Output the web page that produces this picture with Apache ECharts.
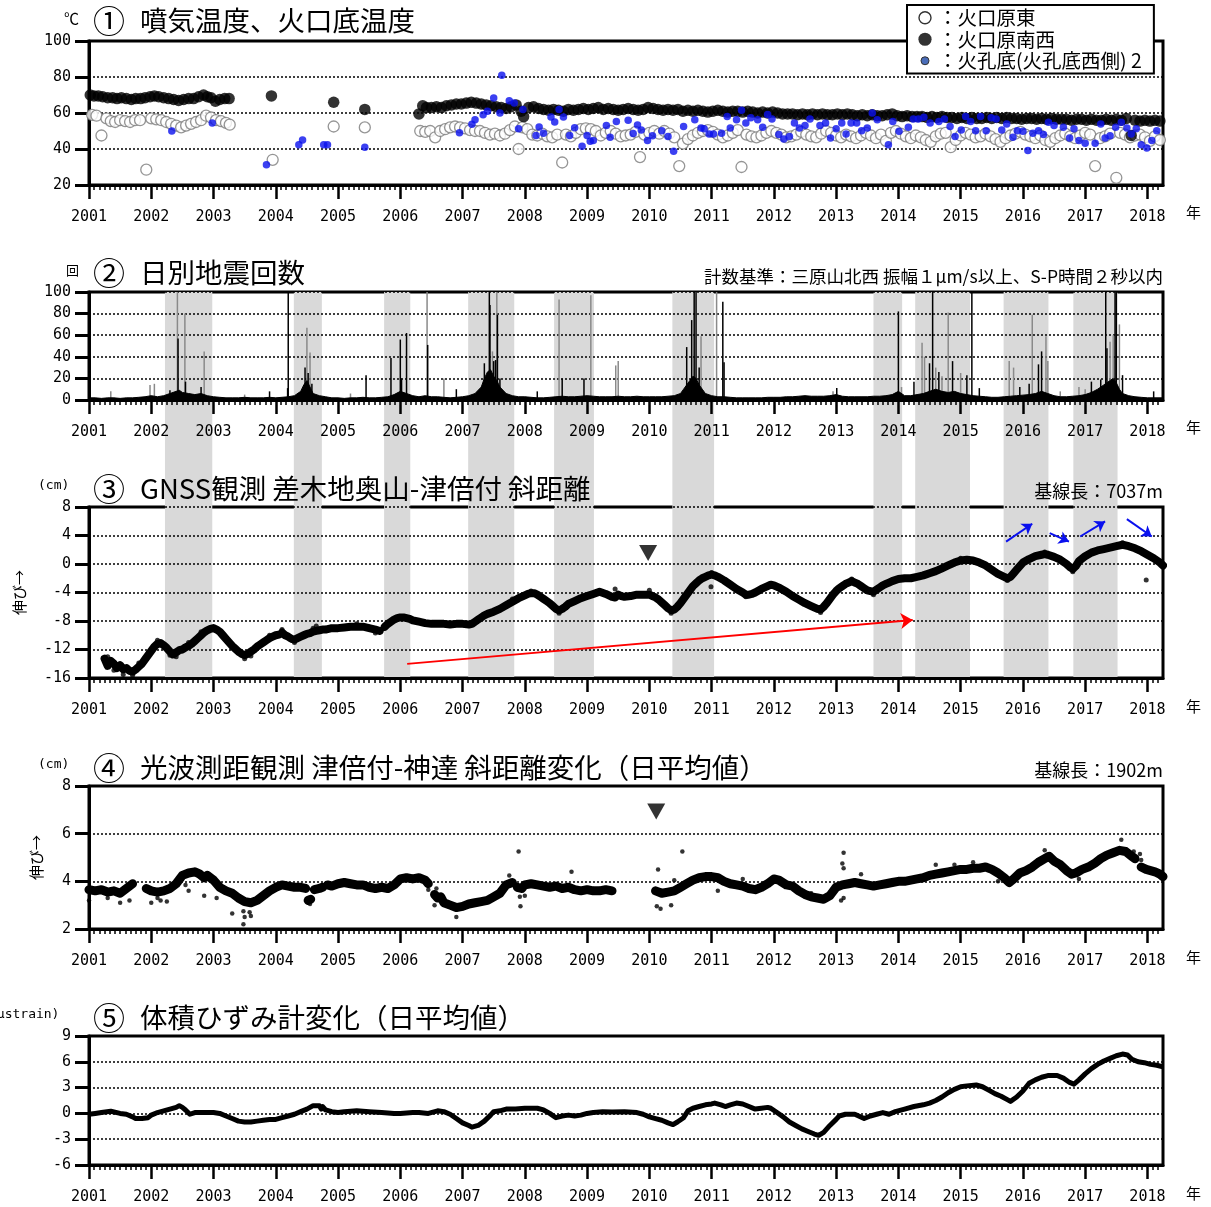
<!DOCTYPE html>
<html><head><meta charset="utf-8">
<script src="https://cdn.jsdelivr.net/npm/echarts@6/dist/echarts.min.js"></script>
<style>html,body{margin:0;padding:0;background:#fff}#c{width:1211px;height:1207px}</style>
</head><body><div id="c"></div>
<script>
// ---------- tick labels ----------
const YEAR_TICKS = [2001,2002,2003,2004,2005,2006,2007,2008,2009,2010,2011,2012,2013,2014,2015,2016,2017,2018];
const X_MIN = 2001, X_MAX = 2018.25;

// ---------- panel 1 : temperatures ----------
const tempEast = [[2001.05,59],[2001.12,58.5],[2001.2,47.5],[2001.28,57],[2001.35,55.5],[2001.42,55],[2001.5,56],[2001.58,55.5],[2001.66,55],[2001.74,56],[2001.82,56],[2001.92,28.5],[2002.0,57],[2002.08,56.5],[2002.16,56],[2002.24,55],[2002.32,54],[2002.4,53],[2002.48,52],[2002.56,53],[2002.64,54],[2002.72,55],[2002.8,56],[2002.88,58.5],[2002.96,57.5],[2003.04,56],[2003.12,55.5],[2003.2,54.5],[2003.26,53.5],
[2003.95,34],[2004.93,52.5],[2005.43,52],
[2006.32,50],[2006.4,49.5],[2006.48,50],[2006.56,46.5],[2006.64,50],[2006.72,51],[2006.8,52],[2006.88,52.5],[2006.96,52],[2007.04,51.5],[2007.12,50.5],[2007.2,50],[2007.28,50],[2007.36,49],[2007.44,48],[2007.52,48.5],[2007.6,47.5],[2007.68,48.5],[2007.76,50.5],[2007.84,52.5],[2007.9,40],[2007.96,52],[2008.04,51],[2008.12,48],[2008.2,47.5],[2008.28,48.5],[2008.36,47],[2008.44,46.5],[2008.52,48],[2008.6,32.5],[2008.66,48],[2008.74,47],[2008.82,49],[2008.9,51],[2008.98,51.5],[2009.06,51],[2009.14,50],[2009.22,47.5],[2009.3,49],[2009.38,50],[2009.46,48.5],[2009.54,47],[2009.62,47.5],[2009.7,48],[2009.78,49.5],[2009.85,35.5],[2009.92,48],[2010.0,49],[2010.08,50],[2010.16,48.5],[2010.24,50],[2010.32,48.5],[2010.4,46.5],[2010.48,30.5],[2010.54,43],[2010.62,45.5],[2010.7,47.5],[2010.78,49],[2010.86,50],[2010.94,50.5],[2011.02,49.5],[2011.1,48],[2011.18,46.5],[2011.26,47.5],[2011.34,49],[2011.42,50.5],[2011.48,30],[2011.56,48],[2011.64,47],[2011.72,46.5],[2011.8,47.5],[2011.88,49],[2011.96,50],[2012.04,49],[2012.12,48],[2012.2,46.5],[2012.28,47],[2012.36,48],[2012.44,49.5],[2012.52,48],[2012.6,47],[2012.68,46.5],[2012.76,48.5],[2012.84,50],[2012.92,49],[2013.0,47.5],[2013.08,46.5],[2013.16,48],[2013.24,47],[2013.32,46],[2013.4,47.5],[2013.48,49],[2013.56,47.5],[2013.64,46],[2013.72,48],[2013.8,44.5],[2013.88,49],[2013.96,50],[2014.04,48.5],[2014.12,47],[2014.2,46],[2014.28,47.5],[2014.36,46.5],[2014.44,45],[2014.52,44],[2014.6,47],[2014.68,48.5],[2014.76,49],[2014.84,41],[2014.92,45],[2015.0,47.5],[2015.08,49],[2015.16,48],[2015.24,46.5],[2015.32,47],[2015.4,48.5],[2015.48,47],[2015.56,45.5],[2015.64,44],[2015.72,46],[2015.8,47.5],[2015.88,48.5],[2015.96,49.5],[2016.04,48],[2016.12,47],[2016.2,46],[2016.28,47.5],[2016.36,45],[2016.44,44],[2016.52,46],[2016.6,47.5],[2016.68,48.5],[2016.76,47],[2016.84,46],[2016.92,47.5],[2017.0,49],[2017.08,48],[2017.16,30.5],[2017.24,46],[2017.32,47],[2017.4,48.5],[2017.5,24],[2017.56,49],[2017.64,48],[2017.72,46.5],[2017.8,47.5],[2017.88,48],[2017.96,46.5],[2018.04,44.5],[2018.12,47],[2018.2,45]];

const tempSouthwest = [[2001.02,70],[2001.08,69.5],[2001.15,69.5],[2001.22,69],[2001.3,68.5],[2001.38,68.5],[2001.45,68],[2001.52,68.5],[2001.6,68],[2001.68,67.5],[2001.75,68],[2001.83,68],[2001.9,68.5],[2001.98,69],[2002.05,69.5],[2002.12,69],[2002.2,68.5],[2002.28,68],[2002.36,67.5],[2002.44,67],[2002.52,67.5],[2002.6,68],[2002.68,68],[2002.76,69],[2002.84,70],[2002.9,69],[2002.96,68.5],[2003.03,66.5],[2003.1,67.5],[2003.18,68],[2003.25,68],
[2003.93,69.5],[2004.93,66],[2005.43,62],
[2006.3,59.5],[2006.36,64],[2006.42,63],[2006.5,63],[2006.58,63.5],[2006.66,63],[2006.74,64],[2006.82,64.5],[2006.9,65],[2006.98,65],[2007.06,65.5],[2007.14,66],[2007.22,65.5],[2007.3,65],[2007.38,64.5],[2007.46,64],[2007.54,63.5],[2007.62,63],[2007.7,62.5],[2007.78,63.5],[2007.86,64.5],[2007.94,61],[2007.98,58],[2008.06,63],[2008.14,63.5],[2008.22,62.5],[2008.3,62],[2008.38,61.5],[2008.46,62],[2008.54,61.5],[2008.62,61],[2008.7,62],[2008.78,61.5],[2008.86,62],[2008.94,62.5],[2009.02,62],[2009.1,62.5],[2009.18,63],[2009.26,62],[2009.34,62.5],[2009.42,62],[2009.5,61.5],[2009.58,62],[2009.66,62.5],[2009.74,62],[2009.82,61.5],[2009.9,62],[2009.98,63],[2010.06,62.5],[2010.14,62],[2010.22,61.5],[2010.3,62],[2010.38,61.5],[2010.46,62],[2010.54,61],[2010.62,61.5],[2010.7,61],[2010.78,61.5],[2010.86,61],[2010.94,60.5],[2011.02,61],[2011.1,61.5],[2011.18,61],[2011.26,60.5],[2011.34,61],[2011.42,61],[2011.5,60.5],[2011.58,61],[2011.66,60.5],[2011.74,60],[2011.82,60.5],[2011.9,60],[2011.98,60.5],[2012.06,60],[2012.14,59.5],[2012.22,59.5],[2012.3,59.5],[2012.38,59],[2012.46,59.5],[2012.54,59],[2012.62,59.5],[2012.7,59],[2012.78,59.5],[2012.86,59],[2012.94,59],[2013.02,59.5],[2013.1,59],[2013.18,59.5],[2013.26,59],[2013.34,58.5],[2013.42,59],[2013.5,58.5],[2013.58,59],[2013.66,58.5],[2013.74,58.5],[2013.82,59],[2013.9,59.5],[2013.98,58.5],[2014.06,58],[2014.14,58.5],[2014.22,58],[2014.3,58],[2014.38,58],[2014.46,57.5],[2014.54,58],[2014.62,57.5],[2014.7,58],[2014.78,57.5],[2014.86,57.5],[2014.94,57],[2015.02,57.5],[2015.1,57],[2015.18,57.5],[2015.26,57],[2015.34,57],[2015.42,57.5],[2015.5,57],[2015.58,57.5],[2015.66,57],[2015.74,57.5],[2015.82,57],[2015.9,57],[2015.98,56.5],[2016.06,57],[2016.14,57],[2016.22,56.5],[2016.3,57],[2016.38,56.5],[2016.46,57],[2016.54,56.5],[2016.62,56.5],[2016.7,56.5],[2016.78,56],[2016.86,56.5],[2016.94,56.5],[2017.02,56],[2017.1,56.5],[2017.18,56],[2017.26,56],[2017.34,56.5],[2017.42,56],[2017.5,56.5],[2017.58,56],[2017.66,57],[2017.74,47.5],[2017.8,56],[2017.88,55.5],[2017.96,56],[2018.04,55.5],[2018.12,56],[2018.2,55.5]];

const tempCraterBottom = [[2002.33,50],[2002.98,54.4],[2003.85,31.2],[2004.37,42.4],[2004.43,45],[2004.77,42.4],[2004.83,42.4],[2005.43,41],[2006.95,49],[2007.15,53.7],[2007.2,56.3],[2007.33,59],[2007.4,61],[2007.5,68.4],[2007.6,60],[2007.63,81],[2007.75,66.8],[2007.83,65.6],[2007.9,51.2],[2007.97,62],[2008.18,47.5],[2008.23,52.2],[2008.3,48.8],[2008.42,57.8],[2008.48,55],[2008.55,62],[2008.62,57.8],[2008.72,47.5],[2008.8,51.8],[2008.92,41.5],[2009.0,47.5],[2009.05,44.3],[2009.1,44.7],
[2009.31,53],[2009.37,46.5],[2009.47,55.3],[2009.66,56],[2009.74,48.6],[2009.81,53.4],[2009.87,50.6],[2009.97,44.7],[2010.05,47.4],[2010.2,50.2],[2010.3,46.9],[2010.39,38.7],[2010.55,52.5],[2010.73,56.2],[2010.83,51.7],[2010.88,51.2],[2010.96,48.4],[2011.03,48.4],[2011.16,48.8],[2011.25,58],[2011.3,51.7],[2011.4,56.2],[2011.48,61.5],[2011.55,54.4],[2011.63,57.4],[2011.74,56.2],[2011.82,52.1],[2011.9,59.1],[2011.97,56.7],[2012.08,48],[2012.16,45.6],[2012.25,46.9],[2012.33,54.4],[2012.41,51.7],[2012.5,53],[2012.58,56.7],[2012.74,53],[2012.83,54.4],[2012.91,46.1],[2013.0,51.2],[2013.09,54.4],[2013.16,48.4],[2013.24,54.4],[2013.33,54.4],[2013.41,50.2],[2013.5,51.7],[2013.58,60],[2013.66,56.2],[2013.84,42.4],[2013.91,55.3],[2014.01,49.9],[2014.16,52.1],[2014.24,56.7],[2014.32,56.7],[2014.41,57.6],[2014.51,54.4],[2014.65,55.3],[2014.74,56.7],[2014.83,52.5],[2014.91,46.9],[2015.01,50.6],[2015.08,58],[2015.16,55.3],[2015.24,50.2],[2015.32,58],[2015.41,50.2],[2015.49,57.4],[2015.57,56.7],[2015.66,50.6],[2015.74,53.9],[2015.84,46.5],[2015.91,50.2],[2016.0,49.9],[2016.08,39.1],[2016.16,48.8],[2016.25,50.2],[2016.33,48],[2016.41,54.9],[2016.5,53],[2016.65,52.1],[2016.75,46.1],[2016.82,51.2],[2016.9,44.7],[2017.0,43.2],[2017.16,43.2],[2017.25,53.9],[2017.32,46.1],[2017.4,47.4],[2017.49,52.1],[2017.58,54.9],[2017.67,51.7],[2017.74,48.4],[2017.82,51.2],[2017.9,42.4],[2017.99,40.6],[2018.07,44.7],[2018.15,50.2]];

// ---------- panel 2 : daily earthquake counts ----------
const quakeBackground = [[2001.0,2],[2001.1,2],[2001.2,1.5],[2001.3,2],[2001.4,2],[2001.5,1.5],[2001.6,2],[2001.7,2],[2001.8,2.5],[2001.9,3],[2002.0,4],[2002.1,3],[2002.2,4],[2002.3,6],[2002.4,8],[2002.45,9],[2002.5,7],[2002.6,6],[2002.7,5],[2002.8,6],[2002.9,4],[2003.0,3],[2003.1,2.5],[2003.2,2],[2003.3,2],[2003.4,2],[2003.5,2.5],[2003.6,2],[2003.7,2],[2003.8,2],[2003.9,2.5],[2004.0,2],[2004.1,2.5],[2004.2,3],[2004.3,4],[2004.4,8],[2004.45,14],[2004.5,18],[2004.55,12],[2004.6,6],[2004.7,4],[2004.8,3],[2004.9,2],[2005.0,2],[2005.1,1.5],[2005.2,2],[2005.3,2],[2005.4,2.5],[2005.5,2],[2005.6,2],[2005.7,2.5],[2005.8,3],[2005.9,5],[2006.0,8],[2006.1,6],[2006.2,4],[2006.3,3],[2006.4,4],[2006.5,3],[2006.6,3],[2006.7,2.5],[2006.8,2],[2006.9,2.5],[2007.0,3],[2007.1,4],[2007.2,6],[2007.3,12],[2007.35,20],[2007.4,26],[2007.45,28],[2007.5,22],[2007.55,18],[2007.6,12],[2007.7,6],[2007.8,4],[2007.9,3],[2008.0,3],[2008.1,2.5],[2008.2,2],[2008.3,2],[2008.4,2.5],[2008.5,3],[2008.6,3.5],[2008.7,3],[2008.8,3],[2008.9,3.5],[2009.0,4],[2009.1,3.5],[2009.2,3],[2009.3,3],[2009.4,3],[2009.5,3.5],[2009.6,3],[2009.7,3],[2009.8,3.5],[2009.9,3],[2010.0,3],[2010.1,3],[2010.2,3],[2010.3,3.5],[2010.4,4],[2010.5,6],[2010.55,10],[2010.6,14],[2010.65,18],[2010.7,22],[2010.75,20],[2010.8,14],[2010.85,10],[2010.9,6],[2011.0,4],[2011.1,3],[2011.2,3],[2011.3,2.5],[2011.4,2],[2011.5,2],[2011.6,2],[2011.7,2],[2011.8,2],[2011.9,2.5],[2012.0,2.5],[2012.1,2.5],[2012.2,3],[2012.3,3],[2012.4,3.5],[2012.5,4],[2012.6,3.5],[2012.7,3.5],[2012.8,3.5],[2012.9,4],[2013.0,5],[2013.1,3.5],[2013.2,3],[2013.3,3],[2013.4,3],[2013.5,3],[2013.6,3.5],[2013.7,3.5],[2013.8,4],[2013.9,5],[2014.0,8],[2014.1,4],[2014.2,4],[2014.3,5],[2014.4,6],[2014.5,8],[2014.6,10],[2014.7,8],[2014.8,7],[2014.9,8],[2015.0,6],[2015.1,5],[2015.2,4],[2015.3,3.5],[2015.4,3],[2015.5,2.5],[2015.6,2.5],[2015.7,3],[2015.8,3.5],[2015.9,4],[2016.0,4.5],[2016.1,5],[2016.2,6],[2016.3,8],[2016.4,6],[2016.5,4],[2016.6,3],[2016.7,3],[2016.8,3.5],[2016.9,4],[2017.0,5],[2017.1,7],[2017.2,10],[2017.3,14],[2017.35,16],[2017.4,18],[2017.45,20],[2017.5,16],[2017.55,10],[2017.6,6],[2017.7,4],[2017.8,3],[2017.9,2.5],[2018.0,2],[2018.1,2],[2018.25,2]];
const quakeSpikesGray = [[2001.35,8],[2001.98,14],[2002.05,15],[2002.42,100],[2002.54,80],[2002.85,45],[2003.5,5],[2004.5,67],[2004.55,44],[2005.2,6],[2006.43,100],[2006.7,20],[2007.48,45],[2007.55,100],[2008.55,93],[2009.06,97],[2009.46,32],[2009.5,36],[2010.83,59],[2011.08,100],[2012.95,8],[2014.05,12],[2014.38,53],[2014.42,40],[2014.6,30],[2014.7,22],[2014.8,81],[2015.0,25],[2015.78,36],[2015.85,30],[2016.15,79],[2016.37,59],[2016.4,36],[2016.6,8],[2016.9,12],[2017.0,10],[2017.4,54],[2017.45,60],[2017.55,70]];
const quakeSpikesBlack = [[2002.3,9],[2002.43,57],[2002.55,17],[2002.8,12],[2003.9,8],[2004.19,11],[2004.2,100],[2004.47,30],[2004.52,25],[2004.58,15],[2005.45,23],[2005.85,39],[2006.0,56],[2006.02,20],[2006.1,62],[2006.44,51],[2006.9,10],[2007.35,34],[2007.43,100],[2007.44,88],[2007.5,36],[2007.53,37],[2007.56,79],[2007.6,20],[2008.2,8],[2008.6,20],[2008.95,20],[2010.6,49],[2010.68,74],[2010.72,100],[2010.75,100],[2010.8,30],[2011.18,91],[2011.2,35],[2013.01,11],[2014.0,82],[2014.25,17],[2014.5,34],[2014.55,100],[2014.65,26],[2014.87,36],[2015.1,23],[2015.18,100],[2015.3,11],[2015.95,12],[2016.1,15],[2016.25,33],[2016.3,45],[2017.1,17],[2017.25,19],[2017.33,100],[2017.35,48],[2017.48,100],[2017.5,100],[2017.6,23],[2018.1,8]];

// ---------- shaded periods (panels 2-3) ----------
const activePeriods = [[2002.22,2002.98],[2004.29,2004.74],[2005.74,2006.16],[2007.09,2007.83],[2008.47,2009.11],[2010.37,2011.04],[2013.6,2014.06],[2014.27,2015.15],[2015.69,2016.41],[2016.81,2017.52]];

// ---------- panel 3 : GNSS slope distance (cm) ----------
const gnss = [[2001.25,-13.3],[2001.3,-14.3],[2001.35,-13.6],[2001.4,-14.0],[2001.45,-14.6],[2001.5,-14.2],[2001.55,-14.8],[2001.6,-14.6],[2001.65,-15.0],[2001.7,-15.1],[2001.75,-14.8],[2001.8,-14.4],[2001.85,-14.0],[2001.9,-13.4],[2001.95,-12.8],[2002.0,-12.2],[2002.05,-11.6],[2002.1,-11.2],[2002.15,-11.1],[2002.2,-11.4],[2002.25,-11.8],[2002.3,-12.3],[2002.35,-12.7],[2002.4,-12.4],[2002.45,-12.1],[2002.5,-12.0],[2002.55,-11.7],[2002.6,-11.5],[2002.65,-11.2],[2002.7,-10.8],[2002.75,-10.4],[2002.8,-10.0],[2002.85,-9.6],[2002.9,-9.3],[2002.95,-9.1],[2003.0,-9.0],[2003.05,-9.2],[2003.1,-9.5],[2003.15,-10.0],[2003.2,-10.5],[2003.25,-11.0],[2003.3,-11.5],[2003.35,-11.9],[2003.4,-12.3],[2003.45,-12.6],[2003.5,-12.8],[2003.55,-12.6],[2003.6,-12.3],[2003.65,-12.0],[2003.7,-11.6],[2003.75,-11.3],[2003.8,-11.0],[2003.85,-10.7],[2003.9,-10.4],[2003.95,-10.2],[2004.0,-10.0],[2004.05,-9.9],[2004.07,'-'],
[2004.1,-9.6],[2004.15,-10.0],[2004.2,-10.2],[2004.25,-10.5],[2004.3,-10.6],[2004.35,-10.4],[2004.4,-10.2],[2004.45,-10.0],[2004.5,-9.8],[2004.55,-9.7],[2004.6,-9.5],[2004.65,-9.4],[2004.7,-9.3],[2004.75,-9.2],[2004.8,-9.2],[2004.9,-9.0],[2005.0,-9.0],[2005.1,-8.9],[2005.2,-8.8],[2005.3,-8.8],[2005.4,-8.8],[2005.5,-9.0],[2005.6,-9.2],[2005.67,-9.4],[2005.7,'-'],
[2005.75,-8.8],[2005.8,-8.4],[2005.85,-8.1],[2005.9,-7.8],[2005.95,-7.6],[2006.0,-7.5],[2006.05,-7.5],[2006.1,-7.6],[2006.15,-7.7],[2006.2,-7.9],[2006.3,-8.1],[2006.4,-8.3],[2006.5,-8.4],[2006.6,-8.4],[2006.7,-8.4],[2006.8,-8.5],[2006.9,-8.4],[2007.0,-8.4],[2007.1,-8.5],[2007.15,-8.4],[2007.2,-8.1],[2007.25,-7.8],[2007.3,-7.5],[2007.35,-7.2],[2007.4,-7.0],[2007.5,-6.7],[2007.6,-6.3],[2007.7,-5.8],[2007.8,-5.3],[2007.9,-4.8],[2008.0,-4.4],[2008.05,-4.2],[2008.1,-4.1],[2008.15,-4.1],[2008.2,-4.3],[2008.25,-4.6],[2008.3,-4.9],[2008.35,-5.2],[2008.4,-5.5],[2008.45,-5.9],[2008.5,-6.3],[2008.55,-6.5],[2008.6,-6.3],[2008.65,-6.0],[2008.7,-5.6],[2008.8,-5.2],[2008.9,-4.8],[2009.0,-4.5],[2009.1,-4.2],[2009.2,-3.9],[2009.3,-4.2],[2009.4,-4.6],[2009.45,-4.7],[2009.5,-4.3],[2009.55,-4.5],[2009.6,-4.6],[2009.7,-4.5],[2009.8,-4.3],[2009.9,-4.3],[2010.0,-4.3],[2010.05,-4.5],[2010.1,-4.7],[2010.15,-5.0],[2010.2,-5.4],[2010.25,-5.8],[2010.3,-6.2],[2010.35,-6.5],[2010.4,-6.4],[2010.45,-6.0],[2010.5,-5.5],[2010.55,-4.9],[2010.6,-4.3],[2010.65,-3.7],[2010.7,-3.1],[2010.75,-2.7],[2010.8,-2.3],[2010.85,-2.0],[2010.9,-1.8],[2010.95,-1.6],[2011.0,-1.5],[2011.05,-1.6],[2011.1,-1.8],[2011.2,-2.3],[2011.3,-2.9],[2011.4,-3.5],[2011.5,-4.0],[2011.55,-4.3],[2011.6,-4.3],[2011.65,-4.2],[2011.7,-4.0],[2011.8,-3.5],[2011.9,-3.1],[2011.95,-2.9],[2012.0,-3.0],[2012.1,-3.4],[2012.2,-3.9],[2012.3,-4.5],[2012.4,-5.0],[2012.5,-5.5],[2012.6,-5.9],[2012.7,-6.3],[2012.75,-6.4],[2012.8,-6.0],[2012.85,-5.5],[2012.9,-4.9],[2012.95,-4.3],[2013.0,-3.8],[2013.05,-3.4],[2013.1,-3.1],[2013.15,-2.8],[2013.2,-2.6],[2013.25,-2.4],[2013.3,-2.6],[2013.35,-2.8],[2013.4,-3.1],[2013.45,-3.4],[2013.5,-3.7],[2013.55,-3.8],[2013.6,-3.9],[2013.65,-3.6],[2013.7,-3.3],[2013.75,-3.0],[2013.8,-2.8],[2013.85,-2.6],[2013.9,-2.4],[2014.0,-2.1],[2014.1,-2.0],[2014.2,-2.0],[2014.3,-1.8],[2014.4,-1.6],[2014.5,-1.3],[2014.6,-1.0],[2014.7,-0.6],[2014.8,-0.2],[2014.9,0.2],[2015.0,0.5],[2015.1,0.6],[2015.2,0.5],[2015.3,0.2],[2015.4,-0.2],[2015.5,-0.8],[2015.6,-1.4],[2015.7,-1.8],[2015.75,-2.0],[2015.8,-1.8],[2015.85,-1.3],[2015.9,-0.8],[2015.95,-0.3],[2016.0,0.2],[2016.1,0.7],[2016.2,1.1],[2016.3,1.3],[2016.35,1.4],[2016.4,1.3],[2016.5,1.0],[2016.6,0.6],[2016.7,0.0],[2016.75,-0.4],[2016.8,-0.7],[2016.85,-0.3],[2016.9,0.4],[2017.0,1.1],[2017.1,1.6],[2017.2,1.9],[2017.3,2.1],[2017.4,2.3],[2017.5,2.5],[2017.6,2.7],[2017.7,2.5],[2017.8,2.2],[2017.9,1.8],[2018.0,1.3],[2018.1,0.8],[2018.2,0.2],[2018.25,-0.2]];
const gnssScatter = [[2001.3,-13.0],[2001.4,-14.9],[2001.55,-15.5],[2001.7,-15.6],[2001.8,-13.9],[2002.1,-10.7],[2002.3,-12.8],[2002.4,-13.0],[2002.6,-11.0],[2002.8,-9.5],[2003.5,-13.3],[2003.6,-12.9],[2003.9,-10.0],[2004.1,-9.2],[2004.3,-11.0],[2004.6,-9.0],[2004.65,-8.7],[2005.3,-8.4],[2005.6,-9.7],[2007.8,-4.9],[2008.1,-3.8],[2008.55,-6.9],[2009.45,-3.5],[2010.0,-3.7],[2010.35,-6.9],[2011.0,-1.2],[2011.55,-4.6],[2012.75,-6.8],[2013.25,-2.1],[2013.6,-4.3],[2015.0,0.8],[2015.75,-2.3],[2016.35,1.7],[2016.8,-1.1],[2017.6,3.0],[2010.99,-3.2],[2017.98,-2.25]];
const gnssTrendArrow = [[2006.11,-14.03],[2014.23,-7.86]];
const gnssBlueArrows = [[[2015.73,3.15],[2016.15,5.65]],[[2016.43,4.33],[2016.74,3.15]],[[2016.92,3.86],[2017.32,5.98]],[[2017.67,6.3],[2018.07,3.86]]];
const gnssMarker = [[2009.98,1.55]];

// ---------- panel 4 : EDM slope distance (cm) ----------
const edm = [[2001.0,3.65],[2001.1,3.6],[2001.2,3.65],[2001.3,3.55],[2001.4,3.6],[2001.5,3.5],[2001.6,3.7],[2001.7,3.9],[2001.8,'-'],
[2001.92,3.7],[2002.0,3.6],[2002.1,3.55],[2002.2,3.6],[2002.3,3.7],[2002.4,3.9],[2002.5,4.25],[2002.6,4.35],[2002.7,4.4],[2002.78,4.3],[2002.85,4.15],[2002.9,4.25],[2003.0,4.05],[2003.1,3.75],[2003.2,3.6],[2003.3,3.5],[2003.4,3.3],[2003.5,3.15],[2003.6,3.1],[2003.7,3.2],[2003.8,3.4],[2003.9,3.6],[2004.0,3.75],[2004.1,3.85],[2004.2,3.8],[2004.3,3.75],[2004.4,3.75],[2004.48,3.7],[2004.5,'-'],
[2004.52,3.2],[2004.56,3.25],[2004.59,'-'],
[2004.62,3.65],[2004.7,3.7],[2004.75,3.75],[2004.79,'-'],
[2004.83,3.85],[2004.9,3.8],[2005.0,3.9],[2005.1,3.95],[2005.2,3.9],[2005.3,3.85],[2005.4,3.85],[2005.5,3.75],[2005.6,3.7],[2005.7,3.75],[2005.8,3.7],[2005.9,3.85],[2006.0,4.1],[2006.1,4.15],[2006.2,4.1],[2006.3,4.15],[2006.4,4.05],[2006.45,3.9],[2006.5,'-'],
[2006.55,3.45],[2006.6,3.3],[2006.65,3.35],[2006.7,3.1],[2006.8,3.0],[2006.9,2.9],[2007.0,2.95],[2007.1,3.05],[2007.2,3.1],[2007.3,3.15],[2007.4,3.2],[2007.5,3.35],[2007.6,3.5],[2007.7,3.85],[2007.8,3.95],[2007.84,'-'],
[2007.88,3.75],[2007.95,3.7],[2008.0,3.85],[2008.1,3.9],[2008.2,3.85],[2008.3,3.8],[2008.4,3.75],[2008.5,3.8],[2008.6,3.7],[2008.7,3.75],[2008.8,3.65],[2008.9,3.6],[2009.0,3.65],[2009.1,3.6],[2009.2,3.6],[2009.3,3.65],[2009.4,3.6],[2009.6,'-'],
[2010.1,3.6],[2010.2,3.5],[2010.3,3.55],[2010.4,3.6],[2010.5,3.75],[2010.6,3.9],[2010.7,4.05],[2010.8,4.15],[2010.9,4.2],[2011.0,4.2],[2011.1,4.15],[2011.2,4.0],[2011.3,3.9],[2011.4,3.85],[2011.5,3.8],[2011.6,3.7],[2011.7,3.65],[2011.8,3.75],[2011.9,3.9],[2012.0,4.1],[2012.08,4.05],[2012.2,3.85],[2012.3,3.8],[2012.4,3.6],[2012.5,3.45],[2012.6,3.35],[2012.7,3.3],[2012.8,3.25],[2012.9,3.4],[2013.0,3.75],[2013.1,3.85],[2013.2,3.9],[2013.3,3.95],[2013.4,3.9],[2013.5,3.85],[2013.6,3.8],[2013.7,3.85],[2013.8,3.9],[2013.9,3.95],[2014.0,4.0],[2014.1,4.0],[2014.2,4.05],[2014.3,4.1],[2014.4,4.15],[2014.5,4.25],[2014.6,4.3],[2014.7,4.35],[2014.8,4.4],[2014.9,4.45],[2015.0,4.5],[2015.1,4.5],[2015.2,4.55],[2015.3,4.55],[2015.4,4.6],[2015.5,4.5],[2015.6,4.35],[2015.7,4.15],[2015.78,3.95],[2015.85,4.1],[2015.95,4.35],[2016.05,4.45],[2016.15,4.6],[2016.25,4.8],[2016.35,4.95],[2016.42,5.05],[2016.5,4.85],[2016.6,4.7],[2016.7,4.45],[2016.78,4.3],[2016.85,4.35],[2016.95,4.5],[2017.05,4.6],[2017.15,4.75],[2017.25,4.95],[2017.35,5.1],[2017.45,5.2],[2017.55,5.3],[2017.65,5.25],[2017.75,5.05],[2017.8,4.95],[2017.85,'-'],
[2017.9,4.6],[2017.98,4.5],[2018.05,4.45],[2018.12,4.4],[2018.2,4.3],[2018.25,4.2]];
const edmScatter = [[2001.0,3.2],[2001.3,3.3],[2001.5,3.1],[2001.65,3.2],[2002.0,3.1],[2002.1,3.3],[2002.15,3.2],[2002.25,3.15],[2002.55,3.85],[2002.6,3.6],[2002.85,3.4],[2003.05,3.3],[2003.3,2.65],[2003.48,2.75],[2003.5,2.5],[2003.48,2.2],[2003.6,2.55],[2003.58,2.7],[2004.55,3.05],[2006.45,3.65],[2006.55,3.0],[2006.58,3.7],[2006.9,2.5],[2007.75,4.25],[2007.9,5.25],[2007.93,2.95],[2007.92,3.35],[2008.0,3.4],[2008.75,4.4],[2010.12,2.95],[2010.14,4.5],[2010.18,2.85],[2010.35,3.0],[2010.4,4.05],[2010.53,5.25],[2011.1,3.6],[2011.5,4.1],[2012.6,3.5],[2013.08,3.2],[2013.1,4.75],[2013.12,5.2],[2013.12,4.55],[2013.12,3.3],[2013.4,4.3],[2014.6,4.7],[2014.9,4.7],[2015.2,4.8],[2015.6,4.0],[2016.35,5.3],[2016.9,4.1],[2017.58,5.75],[2017.78,5.25],[2017.88,5.15],[2017.9,4.9]];
const edmMarker = [[2010.11,6.93]];

// ---------- panel 5 : volumetric strain ----------
const strain = [[2001.0,-0.1],[2001.1,0.0],[2001.2,0.1],[2001.35,0.25],[2001.5,0.0],[2001.6,-0.1],[2001.7,-0.4],[2001.75,-0.6],[2001.85,-0.6],[2001.95,-0.5],[2002.0,-0.2],[2002.1,0.1],[2002.2,0.3],[2002.3,0.5],[2002.4,0.7],[2002.45,0.9],[2002.5,0.7],[2002.55,0.4],[2002.62,-0.1],[2002.7,0.1],[2002.8,0.1],[2002.9,0.1],[2003.0,0.1],[2003.1,0.0],[2003.2,-0.3],[2003.3,-0.6],[2003.4,-0.9],[2003.5,-1.0],[2003.6,-1.0],[2003.7,-0.9],[2003.8,-0.8],[2003.9,-0.7],[2004.0,-0.7],[2004.1,-0.5],[2004.2,-0.3],[2004.3,-0.1],[2004.4,0.2],[2004.5,0.5],[2004.6,0.9],[2004.7,0.9],[2004.73,0.5],[2004.75,0.8],[2004.8,0.4],[2004.9,0.2],[2005.0,0.1],[2005.1,0.2],[2005.3,0.3],[2005.5,0.2],[2005.7,0.1],[2005.9,0.0],[2006.0,0.0],[2006.2,0.1],[2006.3,0.1],[2006.45,0.0],[2006.6,0.3],[2006.7,0.2],[2006.8,-0.1],[2006.9,-0.6],[2007.0,-1.1],[2007.1,-1.4],[2007.15,-1.6],[2007.25,-1.4],[2007.35,-0.9],[2007.45,-0.2],[2007.5,0.2],[2007.6,0.3],[2007.7,0.5],[2007.85,0.5],[2008.0,0.6],[2008.2,0.6],[2008.3,0.4],[2008.4,0.0],[2008.5,-0.5],[2008.6,-0.3],[2008.7,-0.2],[2008.8,-0.3],[2008.9,-0.2],[2009.0,0.0],[2009.1,0.1],[2009.25,0.2],[2009.4,0.15],[2009.6,0.2],[2009.8,0.1],[2009.9,-0.1],[2010.0,-0.4],[2010.1,-0.6],[2010.2,-0.8],[2010.3,-1.1],[2010.38,-1.3],[2010.45,-1.0],[2010.55,-0.5],[2010.62,0.3],[2010.7,0.6],[2010.8,0.8],[2010.9,1.0],[2011.0,1.1],[2011.05,1.2],[2011.15,1.0],[2011.22,0.8],[2011.3,1.0],[2011.4,1.2],[2011.5,1.1],[2011.6,0.8],[2011.7,0.5],[2011.8,0.6],[2011.9,0.7],[2011.95,0.6],[2012.05,0.1],[2012.15,-0.4],[2012.25,-1.0],[2012.35,-1.4],[2012.45,-1.8],[2012.55,-2.1],[2012.65,-2.4],[2012.72,-2.55],[2012.8,-2.2],[2012.9,-1.4],[2013.0,-0.7],[2013.05,-0.3],[2013.15,-0.1],[2013.3,-0.1],[2013.45,-0.6],[2013.55,-0.3],[2013.65,-0.1],[2013.75,0.1],[2013.85,-0.1],[2013.95,0.2],[2014.1,0.5],[2014.25,0.8],[2014.4,1.0],[2014.5,1.2],[2014.6,1.5],[2014.7,1.9],[2014.8,2.4],[2014.9,2.8],[2015.0,3.1],[2015.1,3.2],[2015.25,3.3],[2015.35,3.1],[2015.45,2.7],[2015.55,2.3],[2015.65,2.0],[2015.75,1.6],[2015.8,1.4],[2015.9,1.9],[2016.0,2.6],[2016.1,3.5],[2016.2,3.9],[2016.3,4.2],[2016.4,4.4],[2016.55,4.4],[2016.65,4.1],[2016.75,3.6],[2016.82,3.4],[2016.9,3.9],[2017.0,4.6],[2017.1,5.2],[2017.2,5.7],[2017.3,6.1],[2017.4,6.4],[2017.5,6.7],[2017.6,6.9],[2017.68,6.8],[2017.75,6.3],[2017.85,6.0],[2017.95,5.9],[2018.05,5.7],[2018.15,5.6],[2018.25,5.4]];

// ---------- names ----------
const S_E = '火口原東', S_SW = '火口原南西', S_B = '火孔底(火孔底西側) 2';

// ================= build =================
const NUM = "'DejaVu Sans Mono', monospace";
const JP = "'Noto Sans CJK JP', sans-serif";
const MONTH_TICKS = [];
for (let y = 2001; y <= 2018; y++) for (let m = 1; m < 12; m++) { const v = y + m / 12; if (v < X_MAX) MONTH_TICKS.push(v); }

const L = 89, W = 1074;
const grids = [
  {left:L, width:W, top:41, height:144},
  {left:L, width:W, top:292, height:108},
  {left:L, width:W, top:507, height:171},
  {left:L, width:W, top:786, height:143},
  {left:L, width:W, top:1036, height:129},
  {left:L, width:W, top:292, height:386}
].map((g,i) => Object.assign({show: i<5, borderColor:'#000', borderWidth:3, backgroundColor:'transparent'}, g));

const AZ = 1.5;
const xAxes = [];
for (let i = 0; i < 5; i++) {
  xAxes.push({type:'value', gridIndex:i, position:'bottom', min:X_MIN, max:X_MAX, interval:1, z:AZ,
    axisLine:{show:true, onZero:false, lineStyle:{color:'#000', width:3}},
    axisTick:{show:true, customValues:YEAR_TICKS, length:14, lineStyle:{color:'#000', width:2.5}},
    axisLabel:{show:true, customValues:YEAR_TICKS, formatter:v=>String(Math.round(v)), margin:25, fontFamily:NUM, fontSize:15, color:'#000'},
    splitLine:{show:false}});
  xAxes.push({type:'value', gridIndex:i, position:'bottom', min:X_MIN, max:X_MAX, interval:1, z:AZ,
    axisLine:{show:false, onZero:false},
    axisTick:{show:true, customValues:MONTH_TICKS, length:5, lineStyle:{color:'#000', width:1.5}},
    axisLabel:{show:false}, splitLine:{show:false}});
}
xAxes.push({type:'value', gridIndex:5, min:X_MIN, max:X_MAX, show:false});

function yAx(gi, min, max, interval, extra) {
  return Object.assign({type:'value', gridIndex:gi, min, max, interval, z:AZ,
    axisLine:{show:true, onZero:false, lineStyle:{color:'#000', width:3}},
    axisTick:{show:true, length:14, lineStyle:{color:'#000', width:3}},
    axisLabel:{fontFamily:NUM, fontSize:15, color:'#000', margin:18},
    splitLine:{show:true, lineStyle:{color:'#000', type:[2,2], width:1.5}}}, extra || {});
}
const nameStyle = {fontFamily:JP, fontSize:15, color:'#000'};
const yAxes = [
  yAx(0, 20, 100, 20),
  yAx(1, 0, 100, 20),
  yAx(2, -16, 8, 4, {name:'伸び→', nameLocation:'middle', nameRotate:90, nameGap:62, nameTextStyle:nameStyle}),
  yAx(3, 2, 8, 2, {name:'伸び→', nameLocation:'middle', nameRotate:90, nameGap:45, nameTextStyle:nameStyle}),
  yAx(4, -6, 9, 3),
  {type:'value', gridIndex:5, min:0, max:1, show:false}
];

function svgIcon(inner) {
  return 'image://data:image/svg+xml;charset=utf-8,' + encodeURIComponent('<svg xmlns="http://www.w3.org/2000/svg" width="16" height="16" viewBox="0 0 16 16">' + inner + '</svg>');
}

const series = [
  // bands
  {type:'scatter', xAxisIndex:10, yAxisIndex:5, z:-10, silent:true, symbolSize:0, data:[[2001.5,0.5]],
    markArea:{silent:true, itemStyle:{color:'#d9d9d9'}, data: activePeriods.map(p => [{xAxis:p[0]}, {xAxis:p[1]}])}},
  // panel 1
  {name:S_E, type:'scatter', xAxisIndex:0, yAxisIndex:0, data:tempEast, symbolSize:11, z:3,
    itemStyle:{color:'#fff', borderColor:'#7a7a7a', borderWidth:1.3}},
  {name:S_SW, type:'scatter', xAxisIndex:0, yAxisIndex:0, data:tempSouthwest, symbolSize:11.5, z:4,
    itemStyle:{color:'#000'}},
  {name:S_B, type:'scatter', xAxisIndex:0, yAxisIndex:0, data:tempCraterBottom, symbolSize:7.5, z:5,
    itemStyle:{color:'#0a10ee'}},
  // panel 2
  {type:'line', xAxisIndex:2, yAxisIndex:1, data:quakeBackground, showSymbol:false, z:3,
    lineStyle:{color:'#000', width:1}, areaStyle:{color:'#000', opacity:1}},
  {type:'bar', xAxisIndex:2, yAxisIndex:1, data:quakeSpikesGray, barWidth:1.5, barGap:'-100%', z:2,
    itemStyle:{color:'#8a8a8a'}},
  {type:'bar', xAxisIndex:2, yAxisIndex:1, data:quakeSpikesBlack, barWidth:1.5, barGap:'-100%', z:3,
    itemStyle:{color:'#000'}},
  // panel 3
  {type:'line', xAxisIndex:4, yAxisIndex:2, data:gnss, showSymbol:false, connectNulls:false, z:3,
    lineStyle:{color:'#000', width:8, join:'round', cap:'round'}},
  {type:'scatter', xAxisIndex:4, yAxisIndex:2, data:gnssScatter, symbolSize:5, z:3, itemStyle:{color:'#000'}},
  {type:'scatter', xAxisIndex:4, yAxisIndex:2, data:gnssMarker, symbol:'triangle', symbolRotate:180, symbolSize:[18,16], itemStyle:{color:'#000'}},
  {type:'line', xAxisIndex:4, yAxisIndex:2, data:[], z:6,
    markLine:{silent:true, symbol:['none','arrow'], symbolSize:12, label:{show:false},
      lineStyle:{color:'#ff0000', width:1.8, type:'solid'},
      data:[[{coord:gnssTrendArrow[0]}, {coord:gnssTrendArrow[1]}]]}},
  {type:'line', xAxisIndex:4, yAxisIndex:2, data:[], z:6,
    markLine:{silent:true, symbol:['none','arrow'], symbolSize:10, label:{show:false},
      lineStyle:{color:'#0a10ee', width:2, type:'solid'},
      data: gnssBlueArrows.map(a => [{coord:a[0]}, {coord:a[1]}])}},
  // panel 4
  {type:'line', xAxisIndex:6, yAxisIndex:3, data:edm, showSymbol:false, connectNulls:false, z:3,
    lineStyle:{color:'#000', width:9, join:'round', cap:'round'}},
  {type:'scatter', xAxisIndex:6, yAxisIndex:3, data:edmScatter, symbolSize:4.5, itemStyle:{color:'#000'}},
  {type:'scatter', xAxisIndex:6, yAxisIndex:3, data:edmMarker, symbol:'triangle', symbolRotate:180, symbolSize:[18,16], itemStyle:{color:'#000'}},
  // panel 5
  {type:'line', xAxisIndex:8, yAxisIndex:4, data:strain, showSymbol:false, z:3,
    lineStyle:{color:'#000', width:5, join:'round'}}
];

function txt(x, y, text, size, font, align) {
  return {type:'text', x, y, z:50, style:{text, fontSize:size, fontFamily:font || JP, fill:'#000', textAlign:align || 'left', textVerticalAlign:'top'}};
}
const R = 1163, TS = 27.5;
const graphic = [
  txt(64, 11, '℃', 15),
  txt(93, 5, '①', 32), txt(140, 7, '噴気温度、火口底温度', TS),
  txt(66, 264, '回', 13),
  txt(93, 257, '②', 32), txt(140, 259, '日別地震回数', TS),
  txt(R, 268, '計数基準：三原山北西 振幅１μm/s以上、S-P時間２秒以内', 17.5, JP, 'right'),
  txt(38, 479, '(cm)', 13, NUM),
  txt(93, 473, '③', 32), txt(140, 475, 'GNSS観測 差木地奥山-津倍付 斜距離', TS),
  txt(R, 482, '基線長：7037m', 18, JP, 'right'),
  txt(38, 758, '(cm)', 13, NUM),
  txt(93, 752, '④', 32), txt(140, 754, '光波測距観測 津倍付-神達 斜距離変化（日平均値）', TS),
  txt(R, 761, '基線長：1902m', 18, JP, 'right'),
  txt(-11, 1008, '(μstrain)', 13, NUM),
  txt(93, 1002, '⑤', 32), txt(140, 1004, '体積ひずみ計変化（日平均値）', TS),
  txt(1186, 205, '年', 15), txt(1186, 420, '年', 15), txt(1186, 699, '年', 15), txt(1186, 950, '年', 15), txt(1186, 1186, '年', 15)
];

const chart = echarts.init(document.getElementById('c'), null, {renderer:'canvas'});
chart.setOption({
  animation:false,
  backgroundColor:'#fff',
  grid:grids, xAxis:xAxes, yAxis:yAxes, series, graphic,
  legend:{orient:'vertical', left:907, top:5, backgroundColor:'#fff', borderColor:'#000', borderWidth:2,
    padding:[3,12,3,10], itemGap:2, itemWidth:16, itemHeight:16, selectedMode:false, z:20,
    textStyle:{fontFamily:JP, fontSize:19.5, color:'#000'},
    formatter: n => '：' + n,
    data:[
      {name:S_E, icon:svgIcon('<circle cx="8" cy="8" r="6" fill="#fff" stroke="#000" stroke-width="1.4"/>')},
      {name:S_SW, icon:svgIcon('<circle cx="8" cy="8" r="6.6" fill="#000"/>')},
      {name:S_B, icon:svgIcon('<circle cx="8" cy="8" r="4" fill="#1e49a8" stroke="#000" stroke-width="1"/>')}
    ]}
});
</script></body></html>
